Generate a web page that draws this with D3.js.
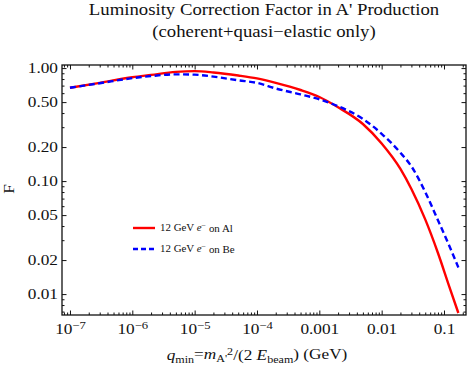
<!DOCTYPE html>
<html>
<head>
<meta charset="utf-8">
<script src="https://cdn.jsdelivr.net/npm/d3@7/dist/d3.min.js"></script>
<style>
  body { margin: 0; background: #fff; }
  text { font-family: "Liberation Serif", "Times New Roman", serif; fill: #111; }
</style>
</head>
<body>
<svg id="chart" width="469" height="373"></svg>
<script>
(function() {
    "use strict";

    // q_min grid (GeV) and correction factor F for both targets
    var qmin = [1e-7, 3e-7, 1e-6, 2e-6, 5e-6, 1e-5, 2e-5, 5e-5, 1e-4, 2e-4, 5e-4,
                1e-3, 2e-3, 5e-3, 1e-2, 2e-2, 3e-2, 5e-2, 8e-2, 0.12, 0.17];
    var fAl = [0.67, 0.74, 0.83, 0.87, 0.925, 0.94, 0.915, 0.86, 0.81, 0.74, 0.64,
               0.555, 0.45, 0.32, 0.215, 0.128, 0.085, 0.0458, 0.0231, 0.0119, 0.0068];
    var fBe = [0.67, 0.735, 0.815, 0.85, 0.88, 0.875, 0.84, 0.78, 0.74, 0.66, 0.585,
               0.53, 0.46, 0.355, 0.262, 0.178, 0.135, 0.08, 0.045, 0.0272, 0.0172];

    var seriesNames = ["Al", "Be"];
    var yTicks = [0.01, 0.02, 0.05, 0.1, 0.2, 0.5, 1];
    var yTickLabels = ["0.01", "0.02", "0.05", "0.10", "0.20", "0.50", "1.00"];
    var yMinor = [0.007, 0.008, 0.009, 0.03, 0.04, 0.06, 0.07, 0.08, 0.09,
                  0.3, 0.4, 0.6, 0.7, 0.8, 0.9];
    var xTicks = [1e-7, 1e-6, 1e-5, 1e-4, 1e-3, 1e-2, 1e-1];
    var xTickLabels = ["10^\u22127", "10^\u22126", "10^\u22125", "10^\u22124", "0.001", "0.01", "0.1"];

    var frame = {left: 62, right: 466, top: 65, bottom: 315};
    var sx = 1.15; // the reference type is set a bit wide

    var svg = d3.select("#chart");

    var x = d3.scaleLog().domain([7.45e-8, 0.2254]).range([frame.left, frame.right]);
    var y = d3.scaleLog().domain([0.00653, 1.065]).range([frame.bottom, frame.top]);

    // minor x ticks: 2..9 of every decade inside the domain
    var xMinor = [];
    for (var e = -8; e <= 0; e++) {
        for (var k = 2; k <= 9; k++) {
            var v = k * Math.pow(10, e);
            if (v > x.domain()[0] && v < x.domain()[1]) { xMinor.push(v); }
        }
    }

    function stretch(sel) {
        sel.each(function() {
            var t = d3.select(this);
            var tx = +t.attr("x") || 0, ty = +t.attr("y") || 0;
            t.attr("x", null).attr("y", null)
             .attr("transform", "translate(" + tx + "," + ty + ") scale(" + sx + ",1)");
        });
    }

    function addAxis(axis, tx, ty, cls) {
        var g = svg.append("g").attr("class", cls)
            .attr("transform", "translate(" + tx + "," + ty + ")")
            .call(axis);
        g.select(".domain").remove();
        g.selectAll(".tick line").attr("stroke", "#111").attr("stroke-width", 1);
        return g;
    }

    // bottom
    var gx = addAxis(d3.axisBottom(x).tickValues(xTicks).tickSizeInner(-4.5).tickSizeOuter(0)
        .tickPadding(8).tickFormat(function(d, i) { return xTickLabels[i]; }), 0, frame.bottom, "x-axis");
    gx.selectAll(".tick text").style("font-size", "15px").attr("fill", "#111")
        .each(function(d, i) {
            var parts = xTickLabels[i].split("^");
            var t = d3.select(this).text(null);
            t.append("tspan").text(parts[0]);
            if (parts.length > 1) {
                t.append("tspan").attr("dy", "-0.45em").style("font-size", "11px").text(parts[1]);
            }
        })
        .call(stretch);
    addAxis(d3.axisBottom(x).tickValues(xMinor).tickSizeInner(-2.5).tickSizeOuter(0)
        .tickFormat(""), 0, frame.bottom, "x-minor");
    // top (mirror)
    addAxis(d3.axisTop(x).tickValues(xTicks).tickSizeInner(-4.5).tickSizeOuter(0)
        .tickFormat(""), 0, frame.top, "x-top");
    addAxis(d3.axisTop(x).tickValues(xMinor).tickSizeInner(-2.5).tickSizeOuter(0)
        .tickFormat(""), 0, frame.top, "x-top-minor");

    // left
    var gy = addAxis(d3.axisLeft(y).tickValues(yTicks).tickSizeInner(-4.5).tickSizeOuter(0)
        .tickPadding(4).tickFormat(function(d, i) { return yTickLabels[i]; }), frame.left, 0, "y-axis");
    gy.selectAll(".tick text").style("font-size", "15px").attr("fill", "#111").call(stretch);
    addAxis(d3.axisLeft(y).tickValues(yMinor).tickSizeInner(-2.5).tickSizeOuter(0)
        .tickFormat(""), frame.left, 0, "y-minor");
    // right (mirror)
    addAxis(d3.axisRight(y).tickValues(yTicks).tickSizeInner(-4.5).tickSizeOuter(0)
        .tickFormat(""), frame.right, 0, "y-right");
    addAxis(d3.axisRight(y).tickValues(yMinor).tickSizeInner(-2.5).tickSizeOuter(0)
        .tickFormat(""), frame.right, 0, "y-right-minor");

    // frame
    svg.append("rect")
        .attr("x", frame.left).attr("y", frame.top)
        .attr("width", frame.right - frame.left).attr("height", frame.bottom - frame.top)
        .attr("fill", "none").attr("stroke", "#111").attr("stroke-width", 1.3);

    // curves
    var line = d3.line()
        .x(function(d) { return x(d[0]); })
        .y(function(d) { return y(d[1]); })
        .curve(d3.curveMonotoneX);

    var styles = {
        Al: {color: "#ff0000", dash: null},
        Be: {color: "#0000ff", dash: "6,3.5"}
    };
    var values = {Al: fAl, Be: fBe};

    svg.append("defs").append("clipPath").attr("id", "plotclip")
        .append("rect").attr("x", frame.left).attr("y", frame.top)
        .attr("width", frame.right - frame.left).attr("height", frame.bottom - frame.top);

    seriesNames.forEach(function(name) {
        var pts = qmin.map(function(q, i) { return [q, values[name][i]]; });
        svg.append("path")
            .datum(pts)
            .attr("clip-path", "url(#plotclip)")
            .attr("fill", "none")
            .attr("stroke", styles[name].color)
            .attr("stroke-width", 2.4)
            .attr("stroke-dasharray", styles[name].dash)
            .attr("d", line);
    });

    // legend
    var legend = svg.append("g").attr("class", "legend").attr("transform", "translate(133,228)");
    seriesNames.forEach(function(name, i) {
        var row = legend.append("g").attr("transform", "translate(0," + (i * 21) + ")");
        row.append("line")
            .attr("x1", 0).attr("x2", 22).attr("y1", 0).attr("y2", 0)
            .attr("stroke", styles[name].color).attr("stroke-width", 2.4)
            .attr("stroke-dasharray", name === "Be" ? "5,3" : null);
        var t = row.append("text").attr("x", 27).attr("y", 3).style("font-size", "9.5px");
        t.append("tspan").text("12 GeV ");
        t.append("tspan").style("font-style", "italic").text("e");
        t.append("tspan").attr("dy", "-0.4em").style("font-size", "7px").text("\u2212");
        t.append("tspan").attr("dy", "0.4em").text(" on " + name);
        t.call(stretch);
    });

    // titles
    var title = svg.append("g").attr("class", "title");
    title.append("text").attr("x", 264).attr("y", 15).attr("text-anchor", "middle")
        .style("font-size", "16.3px").text("Luminosity Correction Factor in A' Production").call(stretch);
    title.append("text").attr("x", 264).attr("y", 37).attr("text-anchor", "middle")
        .style("font-size", "16.3px").text("(coherent+quasi\u2212elastic only)").call(stretch);

    // axis labels
    svg.append("text")
        .attr("transform", "translate(14,189) rotate(-90) scale(" + sx + ",1)")
        .attr("text-anchor", "middle").style("font-size", "15px").text("F");

    var xl = svg.append("text").attr("x", 257).attr("y", 360).attr("text-anchor", "middle")
        .style("font-size", "15px");
    xl.append("tspan").style("font-style", "italic").text("q");
    xl.append("tspan").attr("dy", "0.25em").style("font-size", "10.5px").text("min");
    xl.append("tspan").attr("dy", "-0.25em").text("=");
    xl.append("tspan").style("font-style", "italic").text("m");
    xl.append("tspan").attr("dy", "0.25em").style("font-size", "10.5px").text("A'");
    xl.append("tspan").attr("dy", "-0.6em").style("font-size", "10.5px").text("2");
    xl.append("tspan").attr("dy", "0.35em").text("/(2 ");
    xl.append("tspan").style("font-style", "italic").text("E");
    xl.append("tspan").attr("dy", "0.25em").style("font-size", "10.5px").text("beam");
    xl.append("tspan").attr("dy", "-0.25em").text(") (GeV)");
    xl.call(stretch);
})();
</script>
</body>
</html>
